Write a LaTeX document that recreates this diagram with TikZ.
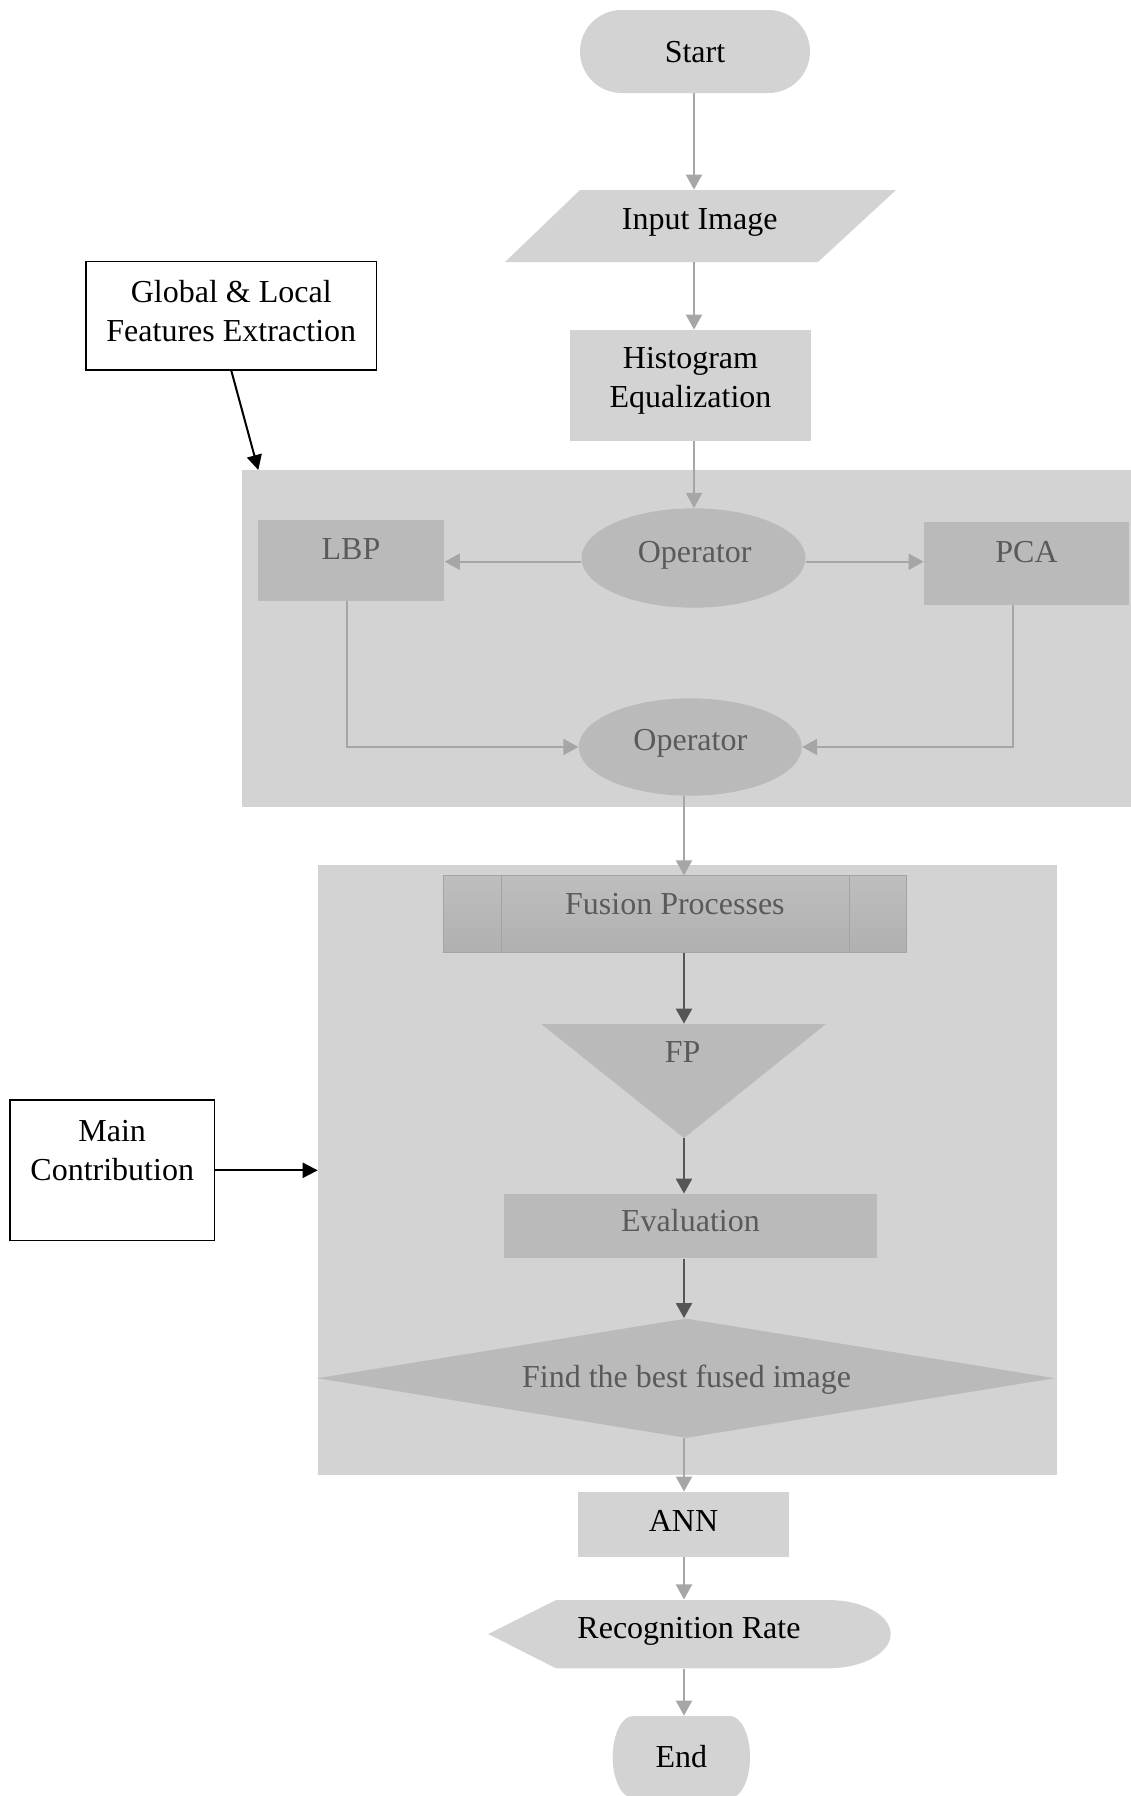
\documentclass[tikz,border=0pt]{standalone}
\usepackage{fontspec}
\setmainfont{Liberation Serif}
\usetikzlibrary{shapes.geometric,shapes.misc,arrows.meta,calc}

\definecolor{paleg}{HTML}{D3D3D3}
\definecolor{midg}{HTML}{BABABA}
\definecolor{fusetop}{HTML}{BEBEBE}
\definecolor{fusebot}{HTML}{B0B0B0}
\definecolor{lineg}{HTML}{A6A6A6}
\definecolor{darkg}{HTML}{555555}
\definecolor{textg}{HTML}{5A5A5A}
\definecolor{edgeg}{HTML}{A3A3A3}

% shift a node's text by (#1,#2) without changing the node's size
\newcommand\nudge[3]{\raisebox{#2}{\hspace*{#1}#3\hspace*{-#1}}}
\newcommand\twolines[2]{\begin{tabular}[b]{@{}c@{}}#1\\#2\end{tabular}}

\begin{document}
\begin{tikzpicture}[
  x=0.5pt, y=-0.5pt,
  font=\fontsize{16}{19.5}\selectfont,
  box/.style={rectangle, inner sep=0pt, text height=10.5pt, text depth=0pt},
  pale/.style={fill=paleg},
  mid/.style={fill=midg, text=textg},
  note/.style={box, draw=black, line width=0.7pt, fill=white},
  garrow/.style={draw=lineg, line width=1pt, -{Triangle[length=7.5pt,width=8pt]}},
  darrow/.style={draw=darkg, line width=1.25pt, -{Triangle[length=7.5pt,width=8pt]}},
  karrow/.style={draw=black, line width=1pt, -{Triangle[length=7.5pt,width=7.5pt]}}
]
\useasboundingbox (0,0) rectangle (1131,1796);

% grouping panels
\node[pale, rectangle, inner sep=0pt, minimum width=444.5pt, minimum height=168.35pt, anchor=north west] (feat) at (242,470) {};
\node[pale, rectangle, inner sep=0pt, minimum width=369.65pt, minimum height=304.85pt, anchor=north west] (contrib) at (317.7,865) {};

% shapes drawn directly
\fill[paleg] (580,190) -- (896,190) -- (818,262) -- (505,262) -- cycle;
\fill[midg] (541.3,1024) -- (825.9,1024) -- (684,1138) -- cycle;
\fill[paleg] (488.3,1634) -- (556,1600) -- (828,1600)
  .. controls (862.6,1600) and (890.7,1615.1) .. (890.7,1634)
  .. controls (890.7,1652.9) and (862.6,1668.3) .. (828,1668.3)
  -- (556,1668.3) -- cycle;
\fill[paleg] (633,1716) -- (730,1716)
  .. controls (741,1716) and (750,1734.3) .. (750,1757)
  .. controls (750,1779.7) and (741,1798) .. (730,1798)
  -- (633,1798)
  .. controls (621.7,1798) and (612.7,1779.7) .. (612.7,1757)
  .. controls (612.7,1734.3) and (621.7,1716) .. (633,1716) -- cycle;

% main flow
\node[box, pale, rounded rectangle, minimum width=115pt, minimum height=41.5pt] (start) at (695,51.5) {Start};
\node[box, minimum width=119pt, minimum height=36pt] (input) at (694,226) {\nudge{2.85pt}{3.6pt}{Input Image}};
\node[box, pale, minimum width=120.5pt, minimum height=55.5pt] (hist) at (690.5,385.5) {\nudge{0pt}{-5.65pt}{\twolines{Histogram}{Equalization}}};

\node[box, mid, ellipse, minimum width=112pt, minimum height=49.7pt] (op1) at (693.5,558) {\nudge{0.6pt}{3.25pt}{Operator}};
\node[box, mid, minimum width=93.35pt, minimum height=40.35pt] (lbp) at (351,560.5) {\nudge{0pt}{6pt}{LBP}};
\node[box, mid, minimum width=102.5pt, minimum height=41.35pt] (pca) at (1026.5,563.3) {\nudge{0pt}{5.55pt}{PCA}};
\node[box, mid, ellipse, minimum width=111.5pt, minimum height=48.7pt] (op2) at (690.3,747) {\nudge{0pt}{3.75pt}{Operator}};

\node[box, text=textg, draw=edgeg, line width=0.5pt, top color=fusetop, bottom color=fusebot,
      minimum width=231.6pt, minimum height=38.1pt] (fusion) at (674.9,913.9) {\nudge{0pt}{5pt}{Fusion Processes}};
\draw[edgeg, line width=0.5pt] ([xshift=29.35pt]fusion.north west) -- ([xshift=29.35pt]fusion.south west);
\draw[edgeg, line width=0.5pt] ([xshift=-28.75pt]fusion.north east) -- ([xshift=-28.75pt]fusion.south east);

\node[box, text=textg, minimum width=142pt, minimum height=57pt] (fp) at (684,1081) {\nudge{-0.7pt}{14.35pt}{FP}};
\node[box, mid, minimum width=186.5pt, minimum height=32.2pt] (eval) at (690.5,1226.2) {\nudge{0pt}{2.6pt}{Evaluation}};
\node[box, mid, diamond, aspect=6.18, minimum width=369pt, minimum height=59.75pt] (best) at (686,1378.2) {\nudge{0.3pt}{0.85pt}{Find the best fused image}};

\node[box, pale, minimum width=105.5pt, minimum height=32.35pt] (ann) at (683.5,1524.3) {\nudge{0pt}{1.9pt}{ANN}};
\node[box, minimum width=100pt, minimum height=34.15pt] (rr) at (684,1634) {\nudge{2.5pt}{3.25pt}{Recognition Rate}};
\node[box, minimum width=68.6pt, minimum height=41pt] (end) at (681.4,1757) {End};

% side notes
\node[note, minimum width=145.35pt, minimum height=54.15pt] (global) at (231.3,315.8) {\nudge{0pt}{-7.7pt}{\twolines{Global \& Local}{Features Extraction}}};
\node[note, minimum width=102.15pt, minimum height=70.35pt] (main) at (112.2,1170.3) {\twolines{Main}{Contribution}};

% trunk lines of the flow
\coordinate (upper) at (694,0);
\coordinate (lower) at (684,0);
\coordinate (featin) at ([xshift=8.15pt]feat.north west);

% connectors
\draw[garrow] (start.south -| upper) -- (input.north -| upper);
\draw[garrow] (input.south -| upper) -- (hist.north -| upper);
\draw[garrow] (hist.south -| upper) -- (op1.north -| upper);
\draw[garrow] ([yshift=-1.85pt]op1.west) -- ([yshift=-1.85pt]op1.west -| lbp.east);
\draw[garrow] ([yshift=-1.85pt]op1.east) -- ([yshift=-1.85pt]op1.east -| pca.west);
\draw[garrow] ([xshift=-1.9pt]lbp.south) |- (op2.west);
\draw[garrow] ([xshift=-6.9pt]pca.south) |- (op2.east);
\draw[garrow] (op2.south -| lower) -- (fusion.north -| lower);
\draw[darrow] (fusion.south -| lower) -- (fp.north -| lower);
\draw[darrow] (fp.south) -- (eval.north -| lower);
\draw[darrow] (eval.south -| lower) -- (best.north -| lower);
\draw[garrow] (best.south -| lower) -- (ann.north -| lower);
\draw[garrow] (ann.south -| lower) -- (rr.north);
\draw[garrow] (rr.south) -- (end.north -| lower);
\draw[karrow] (global.south) -- (featin);
\draw[karrow] (main.east) -- (main.east -| contrib.west);
\end{tikzpicture}
\end{document}
